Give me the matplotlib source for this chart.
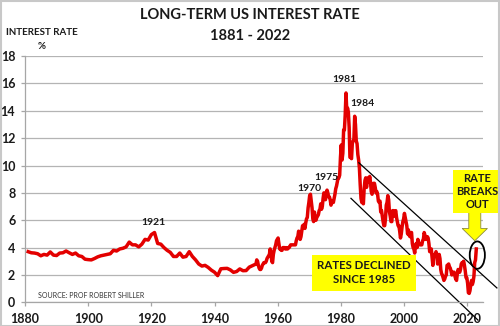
import numpy as np
import matplotlib.pyplot as plt
from matplotlib.patches import Ellipse, Polygon, Rectangle

plt.rcParams['font.family'] = ['Lato', 'DejaVu Sans']

# annual long-term rate, 1881-1952
years_annual = list(range(1881, 1953))
rates_annual = [
    3.70, 3.62, 3.60, 3.55, 3.40, 3.50, 3.45, 3.68, 3.45, 3.42,
    3.60, 3.62, 3.75, 3.62, 3.50, 3.60, 3.40, 3.35, 3.15, 3.12,
    3.10, 3.20, 3.32, 3.40, 3.45, 3.50, 3.55, 3.80, 3.75, 3.90,
    3.95, 4.05, 4.40, 4.20, 4.20, 4.05, 4.25, 4.60, 4.55, 4.95,
    5.10, 4.30, 4.25, 4.00, 3.80, 3.65, 3.35, 3.35, 3.60, 3.30,
    3.35, 3.70, 3.35, 3.10, 2.80, 2.65, 2.70, 2.55, 2.35, 2.20,
    1.95, 2.45, 2.47, 2.48, 2.37, 2.19, 2.25, 2.44, 2.31, 2.32,
    2.57, 2.68,
]

# quarterly long-term rate, 1953-2022
quarter_start = 1953
rates_quarterly = [
    2.8, 3.1, 3.0, 2.7,   2.5, 2.4, 2.4, 2.5,   2.7, 2.8, 2.9, 2.9,
    2.9, 3.0, 3.2, 3.3,   3.4, 3.5, 3.9, 3.6,   3.0, 2.9, 3.5, 3.8,
    4.0, 4.2, 4.5, 4.6,   4.7, 4.3, 3.9, 3.9,   3.8, 3.8, 4.0, 4.0,
    4.0, 3.9, 4.0, 3.9,   3.9, 4.0, 4.0, 4.1,   4.2, 4.2, 4.2, 4.2,
    4.2, 4.2, 4.2, 4.5,   4.7, 4.8, 5.2, 4.9,   4.6, 4.8, 5.2, 5.6,
    5.6, 5.7, 5.4, 5.8,   6.1, 6.2, 6.9, 7.3,   7.8, 7.9, 7.4, 6.9,
    6.1, 5.9, 6.6, 6.0,   6.0, 6.2, 6.3, 6.4,   6.7, 6.8, 7.2, 6.8,
    7.0, 7.6, 8.0, 7.6,   7.5, 8.0, 8.2, 8.0,   7.7, 7.7, 7.5, 7.1,
    7.3, 7.4, 7.3, 7.6,   7.9, 8.3, 8.5, 8.8,   9.1, 9.1, 9.3, 10.6,
    11.5, 10.4, 10.9, 12.6,   12.6, 13.7, 15.3, 14.0,   14.2, 13.9, 12.8, 10.6,
    10.6, 10.5, 11.6, 11.8,   11.9, 13.6, 13.0, 11.8,   11.6, 10.8, 10.4, 9.8,
    8.6, 7.6, 7.3, 7.3,   7.2, 8.3, 8.9, 9.1,   8.4, 8.9, 9.1, 8.8,
    9.2, 8.8, 8.1, 7.9,   8.4, 8.7, 8.7, 8.4,   8.0, 8.1, 7.9, 7.4,
    7.3, 7.4, 6.6, 6.7,   6.3, 5.9, 5.6, 5.6,   6.1, 7.1, 7.3, 7.8,
    7.5, 6.6, 6.3, 5.9,   5.9, 6.7, 6.7, 6.3,   6.6, 6.7, 6.2, 5.9,
    5.6, 5.6, 5.2, 4.7,   5.0, 5.5, 5.9, 6.1,   6.5, 6.2, 5.9, 5.6,
    5.0, 5.3, 4.9, 4.8,   5.1, 5.1, 4.3, 4.0,   3.9, 3.6, 4.2, 4.3,
    4.0, 4.6, 4.3, 4.2,   4.3, 4.2, 4.2, 4.5,   4.6, 5.1, 4.9, 4.6,
    4.7, 4.8, 4.7, 4.3,   3.7, 3.9, 3.9, 3.3,   2.7, 3.3, 3.5, 3.5,
    3.7, 3.5, 2.8, 2.9,   3.5, 3.2, 2.4, 2.1,   2.0, 1.8, 1.6, 1.7,
    1.9, 2.0, 2.7, 2.7,   2.8, 2.6, 2.5, 2.3,   2.0, 2.2, 2.2, 2.2,
    1.9, 1.7, 1.6, 2.1,   2.4, 2.3, 2.2, 2.4,   2.8, 2.9, 2.9, 3.0,
    2.7, 2.3, 1.8, 1.8,   1.4, 0.7, 0.65, 0.85,   1.3, 1.6, 1.3, 1.5,
    1.9, 2.9, 3.1, 3.9,
]

peak_labels = [("1921", 1920.8, 5.8), ("1970", 1970.0, 8.3),
               ("1975", 1975.5, 9.1), ("1981", 1981.0, 16.3),
               ("1984", 1986.8, 14.5)]

x_ticks = [1880, 1900, 1920, 1940, 1960, 1980, 2000, 2020]
y_ticks = list(range(0, 19, 2))

# channel lines (start year, start rate, end year, end rate)
upper_channel = (1985.7, 10.2, 2029.4, 1.05)
lower_channel = (1983.2, 7.6, 2023.4, -1.3)

years = np.concatenate([years_annual,
                        quarter_start + 0.125 + 0.25 * np.arange(len(rates_quarterly))])
rates = np.concatenate([rates_annual, rates_quarterly])

fig = plt.figure(figsize=(5.0, 3.26), dpi=100)
ax = fig.add_axes([0.05, 0.0727, 0.916, 0.7553])

ax.plot(years, rates, color='#e30000', lw=2.5, solid_joinstyle='round')

ax.set_xlim(1880, 2025)
ax.set_ylim(0, 18)
ax.set_xticks(x_ticks)
ax.set_yticks(y_ticks)
ax.grid(axis='y', color='#b4b4b4', lw=0.9)
ax.set_axisbelow(True)
for side in ['top', 'right']:
    ax.spines[side].set_visible(False)
for side in ['left', 'bottom']:
    ax.spines[side].set_color('#a6a6a6')
    ax.spines[side].set_linewidth(0.9)
ax.tick_params(axis='both', colors='#a6a6a6', length=3, width=0.9)
ax.tick_params(axis='x', pad=5, labelcolor='#1a1a1a', labelsize=9)
ax.tick_params(axis='y', pad=4, labelcolor='#1a1a1a', labelsize=9)
for lbl in ax.get_xticklabels() + ax.get_yticklabels():
    lbl.set_fontweight('bold')

for text, x, y in peak_labels:
    ax.text(x, y, text, ha='center', va='center', fontsize=7.5,
            fontweight='bold', color='#1a1a1a')

for x0, y0, x1, y1 in [upper_channel, lower_channel]:
    ax.plot([x0, x1], [y0, y1], color='black', lw=0.9, clip_on=False)

ax.add_patch(Ellipse((2023.2, 3.45), 4.8, 2.0, fill=False,
                     edgecolor='black', lw=1.3, clip_on=False))

# yellow arrow pointing at the breakout
ax_x, shaft_w, head_w = 2022.4, 1.9, 4.0
arrow = Polygon([(ax_x - shaft_w, 6.6), (ax_x + shaft_w, 6.6),
                 (ax_x + shaft_w, 5.4), (ax_x + head_w, 5.4),
                 (ax_x, 4.5), (ax_x - head_w, 5.4), (ax_x - shaft_w, 5.4)],
                closed=True, facecolor='#ffff00', edgecolor='#8c8c3c',
                lw=0.6, clip_on=False, zorder=5)
ax.add_patch(arrow)

ax.text(2023.2, 8.1, "RATE\nBREAKS\nOUT", ha='center', va='center',
        fontsize=8, fontweight='bold', color='#1a1a1a', linespacing=1.2,
        zorder=6,
        bbox=dict(boxstyle='square,pad=0.3', facecolor='#ffff00', edgecolor='none'))

ax.text(1987.3, 2.15, "RATES DECLINED\nSINCE 1985", ha='center', va='center',
        fontsize=8.3, fontweight='bold', color='#1a1a1a', linespacing=1.35,
        zorder=6,
        bbox=dict(boxstyle='square,pad=0.45', facecolor='#ffff00', edgecolor='none'))

ax.text(1884.0, 0.5, "SOURCE: PROF ROBERT SHILLER", ha='left', va='center',
        fontsize=5, color='#333333')

fig.text(0.5, 0.953, "LONG-TERM US INTEREST RATE", ha='center', va='center',
         fontsize=10.5, fontweight='bold', color='#1a1a1a')
fig.text(0.5, 0.89, "1881 - 2022", ha='center', va='center',
         fontsize=10.5, fontweight='bold', color='#1a1a1a')
fig.text(0.084, 0.899, "INTEREST RATE", ha='center', va='center',
         fontsize=7, fontweight='bold', color='#1a1a1a')
fig.text(0.084, 0.858, "%", ha='center', va='center',
         fontsize=7, fontweight='bold', color='#1a1a1a')

fig.patches.append(Rectangle((0.001, 0.001), 0.997, 0.996, transform=fig.transFigure,
                             fill=False, edgecolor='#c8c8c8', lw=1.5))

fig.savefig('out.png', dpi=100)
